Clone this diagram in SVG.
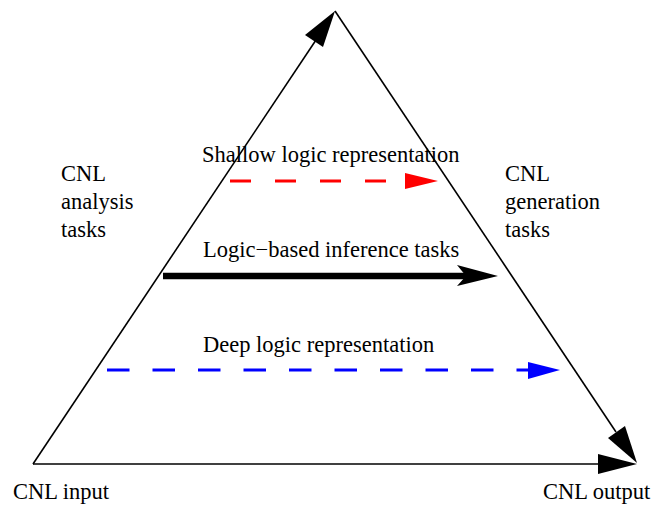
<svg xmlns="http://www.w3.org/2000/svg" width="652" height="508" viewBox="0 0 652 508">
<style>
text{font-family:"Liberation Serif","Times New Roman",serif;font-size:22.5px;fill:#000}
.edge{stroke:#000;stroke-width:1.6;fill:none}
</style>
<rect width="652" height="508" fill="#fff"/>
<g id="connectors">
<line class="edge" x1="33" y1="464" x2="318" y2="37"/>
<polygon points="335,11 323,47 305,35" fill="#000"/>
<line class="edge" x1="335" y1="11" x2="616" y2="432"/>
<polygon points="637,463 608,438 625,426" fill="#000"/>
<line class="edge" x1="33" y1="464" x2="600" y2="464"/>
<polygon points="637,464 598,454 598,474" fill="#000"/>
<line x1="230" y1="181" x2="406" y2="181" stroke="#f00" stroke-width="3" stroke-dasharray="21,24"/>
<polygon points="438,181 405,173 405,189" fill="#f00"/>
<line x1="163" y1="276" x2="470" y2="276" stroke="#000" stroke-width="6.5"/>
<polygon points="498,276 457,265 466,276 457,286" fill="#000"/>
<line x1="107" y1="370" x2="530" y2="370" stroke="#00f" stroke-width="3" stroke-dasharray="22.5,23"/>
<polygon points="560,370 528,362 528,379" fill="#00f"/>
</g>
<g id="analysis"><text x="61" y="181">CNL</text><text x="61" y="209">analysis</text><text x="61" y="237">tasks</text></g>
<g id="generation"><text x="505" y="181">CNL</text><text x="505" y="209">generation</text><text x="505" y="237">tasks</text></g>
<g id="shallow"><text x="202" y="162">Shallow logic representation</text></g>
<g id="inference"><text x="203" y="257">Logic−based inference tasks</text></g>
<g id="deep"><text x="203" y="352">Deep logic representation</text></g>
<g id="input"><text x="13" y="499">CNL input</text></g>
<g id="output"><text x="543" y="499">CNL output</text></g>
</svg>
